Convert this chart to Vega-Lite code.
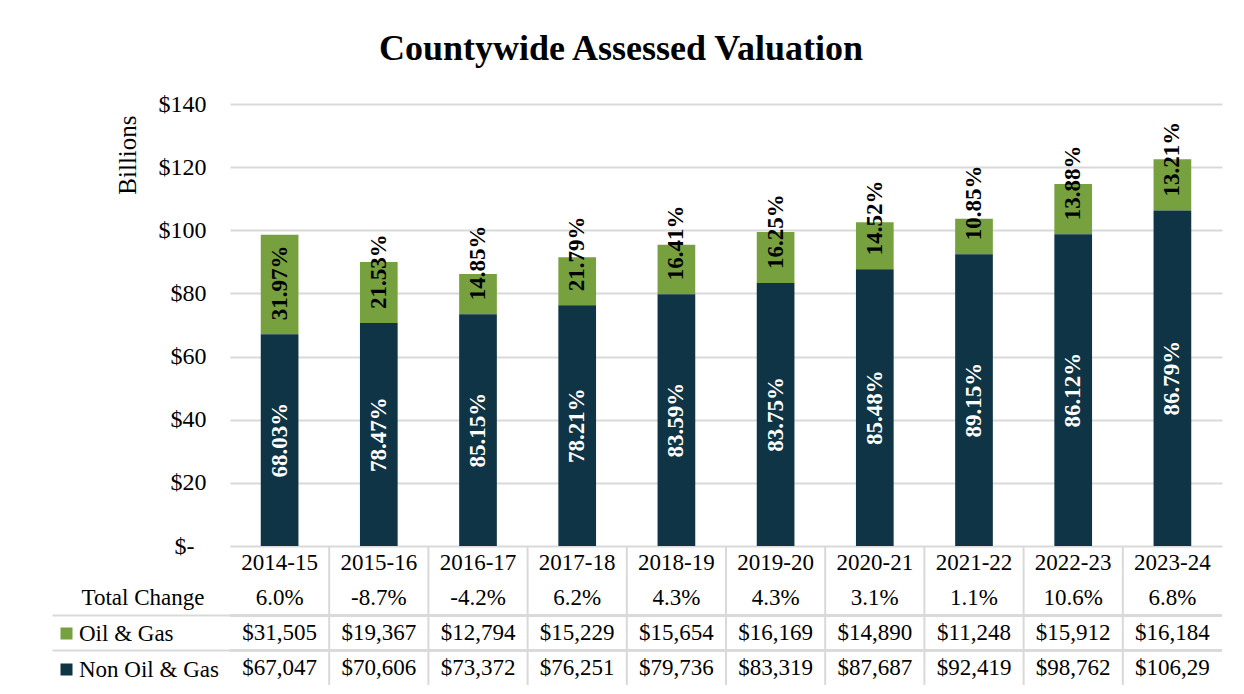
{
  "$schema": "https://vega.github.io/schema/vega-lite/v6.json",
  "background": "white",
  "padding": {"left": 51, "top": 31, "right": 5, "bottom": 5},
  "title": {"text": "Countywide Assessed Valuation", "font": "Liberation Serif", "fontSize": 36, "fontWeight": "bold", "color": "black", "anchor": "middle", "frame": "bounds", "offset": 24, "dx": -16},
  "datasets": {
    "values": [
      {"year": "2014-15", "series": "Oil & Gas", "value": 31505, "share": 0.3197},
      {"year": "2014-15", "series": "Non Oil & Gas", "value": 67047, "share": 0.6803},
      {"year": "2015-16", "series": "Oil & Gas", "value": 19367, "share": 0.2153},
      {"year": "2015-16", "series": "Non Oil & Gas", "value": 70606, "share": 0.7847},
      {"year": "2016-17", "series": "Oil & Gas", "value": 12794, "share": 0.1485},
      {"year": "2016-17", "series": "Non Oil & Gas", "value": 73372, "share": 0.8515},
      {"year": "2017-18", "series": "Oil & Gas", "value": 15229, "share": 0.2179},
      {"year": "2017-18", "series": "Non Oil & Gas", "value": 76251, "share": 0.7821},
      {"year": "2018-19", "series": "Oil & Gas", "value": 15654, "share": 0.1641},
      {"year": "2018-19", "series": "Non Oil & Gas", "value": 79736, "share": 0.8359},
      {"year": "2019-20", "series": "Oil & Gas", "value": 16169, "share": 0.1625},
      {"year": "2019-20", "series": "Non Oil & Gas", "value": 83319, "share": 0.8375},
      {"year": "2020-21", "series": "Oil & Gas", "value": 14890, "share": 0.1452},
      {"year": "2020-21", "series": "Non Oil & Gas", "value": 87687, "share": 0.8548},
      {"year": "2021-22", "series": "Oil & Gas", "value": 11248, "share": 0.1085},
      {"year": "2021-22", "series": "Non Oil & Gas", "value": 92419, "share": 0.8915},
      {"year": "2022-23", "series": "Oil & Gas", "value": 15912, "share": 0.1388},
      {"year": "2022-23", "series": "Non Oil & Gas", "value": 98762, "share": 0.8612},
      {"year": "2023-24", "series": "Oil & Gas", "value": 16184, "share": 0.1321},
      {"year": "2023-24", "series": "Non Oil & Gas", "value": 106295, "share": 0.8679}
    ],
    "years": [
      {"year": "2014-15", "change": 0.060},
      {"year": "2015-16", "change": -0.087},
      {"year": "2016-17", "change": -0.042},
      {"year": "2017-18", "change": 0.062},
      {"year": "2018-19", "change": 0.043},
      {"year": "2019-20", "change": 0.043},
      {"year": "2020-21", "change": 0.031},
      {"year": "2021-22", "change": 0.011},
      {"year": "2022-23", "change": 0.106},
      {"year": "2023-24", "change": 0.068}
    ]
  },
  "spacing": 0,
  "bounds": "flush",
  "vconcat": [
    {
      "width": 992,
      "height": 442,
      "data": {"name": "values"},
      "encoding": {
        "x": {"field": "year", "type": "nominal", "axis": null, "scale": {"paddingInner": 0.62, "paddingOuter": 0.31}}
      },
      "layer": [
        {
          "mark": {"type": "bar"},
          "encoding": {
            "y": {
              "field": "value", "type": "quantitative", "stack": "zero", "title": "Billions",
              "scale": {"domain": [0, 140000], "nice": false},
              "axis": {
                "values": [0, 20000, 40000, 60000, 80000, 100000, 120000, 140000],
                "labelExpr": "datum.value == 0 ? '$-' : '$' + (datum.value / 1000)",
                "grid": true, "gridColor": "#d9d9d9", "gridWidth": 2,
                "domain": false, "ticks": false,
                "labelPadding": {"condition": {"test": "datum.value == 0", "value": 36}, "value": 24},
                "labelFont": "Liberation Serif", "labelFontSize": 24, "labelColor": "black",
                "titleFont": "Liberation Serif", "titleFontSize": 25, "titleFontWeight": "normal", "titleColor": "black",
                "titleAnchor": "end", "titlePadding": 18, "titleY": 11
              }
            },
            "color": {
              "field": "series", "type": "nominal",
              "scale": {"domain": ["Oil & Gas", "Non Oil & Gas"], "range": ["#77a03f", "#0e3445"]},
              "legend": {
                "orient": "none", "legendX": -175, "legendY": 518, "direction": "vertical",
                "title": null, "symbolType": "square", "symbolSize": 144, "symbolStrokeWidth": 0,
                "labelFont": "Liberation Serif", "labelFontSize": 23, "labelColor": "black",
                "labelOffset": 1, "rowPadding": 12, "padding": 0, "labelLimit": 300
              }
            },
            "order": {"field": "series", "sort": "ascending"}
          }
        },
        {
          "mark": {"type": "text", "angle": 270, "align": "center", "baseline": "middle", "font": "Liberation Serif", "fontSize": 23, "fontWeight": "bold", "color": "white"},
          "encoding": {
            "y": {"field": "value", "type": "quantitative", "stack": "zero", "bandPosition": 0.5, "title": "Billions"},
            "order": {"field": "series", "sort": "ascending"},
            "text": {"field": "share", "format": ".2%"},
            "opacity": {"condition": {"test": "datum.series == 'Non Oil & Gas'", "value": 1}, "value": 0}
          }
        },
        {
          "transform": [
            {"stack": "value", "groupby": ["year"], "sort": [{"field": "series", "order": "ascending"}], "as": ["v0", "v1"]},
            {"filter": "datum.series == 'Oil & Gas'"}
          ],
          "mark": {"type": "text", "angle": 270, "align": "left", "baseline": "middle", "dx": 14, "font": "Liberation Serif", "fontSize": 23, "fontWeight": "bold", "color": "black"},
          "encoding": {
            "y": {"field": "v0", "type": "quantitative", "title": "Billions"},
            "text": {"field": "share", "format": ".2%"}
          }
        }
      ]
    },
    {
      "width": 992,
      "height": 139,
      "encoding": {
        "x": {
          "field": "year", "type": "nominal",
          "scale": {"paddingInner": 0, "paddingOuter": 0},
          "axis": null
        }
      },
      "layer": [
        {
          "data": {"name": "years"},
          "transform": [{"filter": "datum.year != '2014-15'"}],
          "mark": {"type": "rule", "color": "#d9d9d9", "strokeWidth": 2},
          "encoding": {
            "x": {"field": "year", "type": "nominal", "bandPosition": 0}
          }
        },
        {
          "data": {"name": "values"},
          "mark": {"type": "rule", "color": "#d9d9d9", "strokeWidth": 2},
          "encoding": {
            "x": null,
            "y": {"field": "series", "type": "nominal", "bandPosition": 0}
          }
        },
        {
          "data": {"name": "years"},
          "mark": {"type": "text", "font": "Liberation Serif", "fontSize": 23, "color": "black", "baseline": "middle"},
          "encoding": {
            "y": {
              "datum": "Year", "type": "nominal",
              "scale": {"domain": ["Year", "Total Change", "Oil & Gas", "Non Oil & Gas"], "paddingInner": 0, "paddingOuter": 0},
              "axis": {
                "title": null, "domain": false, "grid": false, "bandPosition": 0,
                "ticks": true, "tickSize": 178, "tickWidth": 2,
                "tickColor": {"condition": {"test": "datum.value == 'Oil & Gas' || datum.value == 'Non Oil & Gas'", "value": "#d9d9d9"}, "value": "transparent"},
                "labelExpr": "datum.value == 'Total Change' ? datum.value : ''",
                "labelAlign": "left", "labelPadding": -29, "labelOffset": 0, "labelBaseline": "middle",
                "labelFont": "Liberation Serif", "labelFontSize": 23, "labelColor": "black"
              }
            },
            "text": {"field": "year"}
          }
        },
        {
          "data": {"name": "years"},
          "mark": {"type": "text", "font": "Liberation Serif", "fontSize": 23, "color": "black", "baseline": "middle"},
          "encoding": {
            "y": {"datum": "Total Change", "type": "nominal"},
            "text": {"field": "change", "format": ".1%"}
          }
        },
        {
          "data": {"name": "values"},
          "mark": {"type": "text", "font": "Liberation Serif", "fontSize": 23, "color": "black", "baseline": "middle", "limit": 78, "ellipsis": "\u200b"},
          "encoding": {
            "y": {"field": "series", "type": "nominal"},
            "text": {"field": "value", "format": "$,"}
          }
        }
      ]
    }
  ],
  "config": {
    "view": {"stroke": null},
    "font": "Liberation Serif",
    "locale": {"number": {"decimal": ".", "thousands": ",", "grouping": [3], "currency": ["$", ""], "minus": "-"}}
  }
}
